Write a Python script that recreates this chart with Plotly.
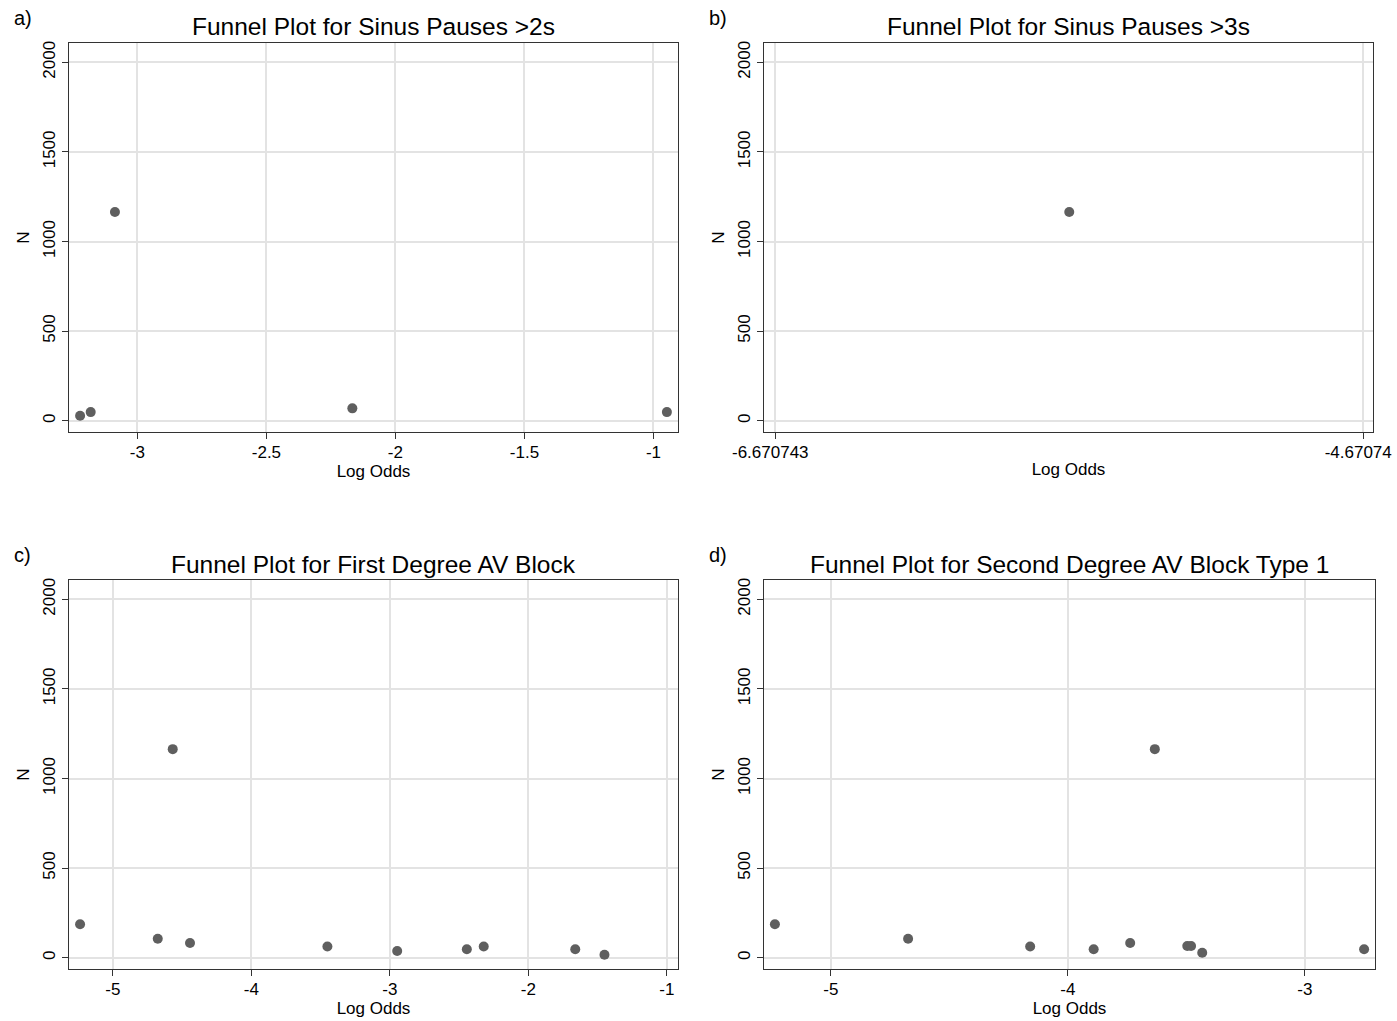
import plotly.graph_objects as go

# ---- data ----
a_logodds = [-3.222, -3.181, -3.087, -2.167, -0.948]
a_n = [28, 48, 1165, 69, 48]
a_ticks = [-3, -2.5, -2, -1.5, -1]

b_logodds = [-5.670743]
b_n = [1165]
b_ticks = [-6.670743, -4.67074]

c_logodds = [-5.237, -4.676, -4.568, -4.443, -3.451, -2.947, -2.444, -2.322, -1.661, -1.450]
c_n = [187, 106, 1164, 82, 63, 37, 47, 63, 47, 17]
c_ticks = [-5, -4, -3, -2, -1]

d_logodds = [-5.236, -4.674, -4.159, -3.891, -3.737, -3.633, -3.496, -3.480, -3.433, -2.750]
d_n = [187, 106, 63, 47, 82, 1164, 65, 65, 28, 47]
d_ticks = [-5, -4, -3]

titles = ["Funnel Plot for Sinus Pauses >2s",
          "Funnel Plot for Sinus Pauses >3s",
          "Funnel Plot for First Degree AV Block",
          "Funnel Plot for Second Degree AV Block Type 1"]
panel_labels = ["a)", "b)", "c)", "d)"]
x_ranges = [[-3.265, -0.905], [-6.709, -4.6375], [-5.317, -0.919], [-5.282, -2.704]]
y_range = [-63, 2108]
y_ticks = [0, 500, 1000, 1500, 2000]

W, H = 1397, 1021
FONT = "Liberation Sans, Arial, Helvetica, sans-serif"

# plot-area boxes in pixels (left, right, top, bottom)
boxes = [(69, 678, 43, 432), (764, 1373, 43, 432),
         (69, 678, 580, 969), (764, 1375, 580, 969)]


def fmt(v):
    return "%g" % v


fig = go.Figure()
series = [(a_logodds, a_n, a_ticks), (b_logodds, b_n, b_ticks),
          (c_logodds, c_n, c_ticks), (d_logodds, d_n, d_ticks)]
b_labels = ["-6.670743", "-4.67074"]

layout = dict(width=W, height=H, autosize=False,
              margin=dict(l=0, r=0, t=0, b=0, autoexpand=False),
              paper_bgcolor="white", plot_bgcolor="white",
              showlegend=False, font=dict(family=FONT, color="black"))

annotations = []
for i, ((xs, ys, xt), box) in enumerate(zip(series, boxes)):
    k = "" if i == 0 else str(i + 1)
    l, r, t, b = box
    fig.add_trace(go.Scatter(x=xs, y=ys, mode="markers",
                             marker=dict(size=10, color="#5f5f5f"),
                             xaxis="x" + k, yaxis="y" + k))
    xlabels = b_labels if i == 1 else [fmt(v) for v in xt]
    xa = dict(domain=[l / W, r / W], range=x_ranges[i], anchor="y" + k,
              automargin=False, tickmode="array", tickvals=xt, ticktext=xlabels,
              ticklabeloverflow="allow", ticklabelstandoff=-2,
              ticklabelshift=(-5 if i == 1 else 0),
              showgrid=True, gridcolor="#e3e3e3", gridwidth=1.5,
              zeroline=False, showline=True, linecolor="#333333", linewidth=1.3,
              mirror=True, ticks="outside", ticklen=6, tickcolor="#333333",
              tickwidth=1.2, tickfont=dict(size=17, family=FONT, color="black"),
              title=dict(text="Log Odds", font=dict(size=17, family=FONT, color="black"),
                         standoff=2))
    ya = dict(domain=[1 - b / H, 1 - t / H], range=y_range, anchor="x" + k,
              automargin=False, tickmode="array", tickvals=y_ticks,
              ticktext=[str(v) for v in y_ticks], ticklabeloverflow="allow",
              showgrid=True, gridcolor="#e3e3e3", gridwidth=1.5,
              zeroline=False, showline=True, linecolor="#333333", linewidth=1.3,
              mirror=True, ticks="outside", ticklen=6, tickcolor="#333333",
              tickwidth=1.2, tickangle=-90,
              tickfont=dict(size=17, family=FONT, color="black"),
              title=dict(text="N", font=dict(size=17, family=FONT, color="black"),
                         standoff=6))
    layout["xaxis" + k] = xa
    layout["yaxis" + k] = ya
    annotations.append(dict(text=titles[i], x=(l + r) / 2 / W, y=1 - (t - 16) / H,
                            xref="paper", yref="paper", xanchor="center", yanchor="middle",
                            showarrow=False, font=dict(size=24.5, family=FONT, color="black")))
    annotations.append(dict(text=panel_labels[i], x=(l - 57) / W, y=1 - (t - 25) / H,
                            xref="paper", yref="paper", xanchor="left", yanchor="middle",
                            showarrow=False, font=dict(size=20, family=FONT, color="black")))

layout["annotations"] = annotations
fig.update_layout(**layout)
fig.write_html("out.html")
